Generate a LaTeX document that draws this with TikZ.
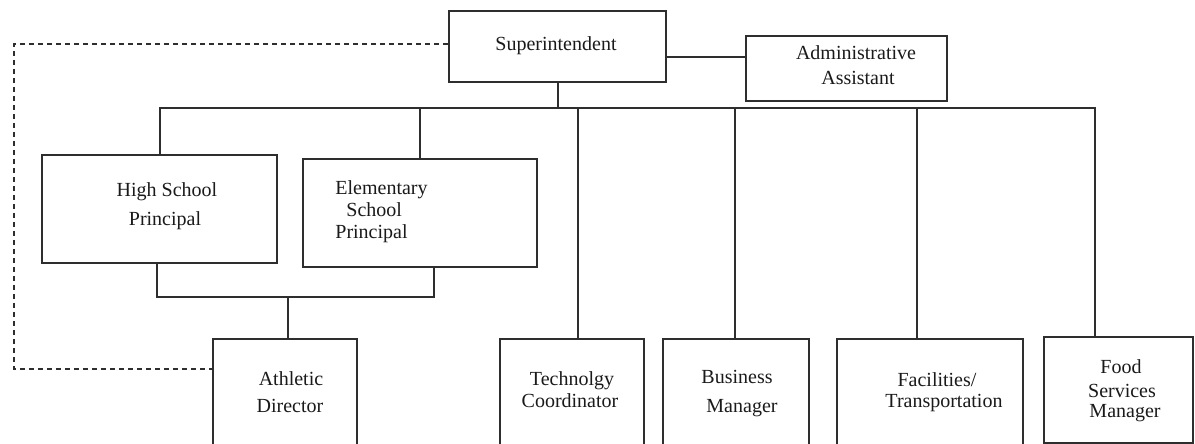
\documentclass[tikz,border=0pt]{standalone}
\usepackage{fontspec}
\setmainfont{Liberation Serif}
\definecolor{linec}{HTML}{2E2E2E}
\definecolor{txtc}{HTML}{1A1A1A}
\begin{document}
\begin{tikzpicture}[x=0.5pt,y=-0.5pt,
  box/.style={draw=linec, line width=1pt, inner sep=0pt, anchor=north west},
  ln/.style={draw=linec, line width=1pt},
  dl/.style={draw=linec, line width=0.8pt, dash pattern=on 2.5pt off 2pt},
  lbl/.style={inner sep=0pt, font=\fontsize{10}{12}\selectfont, text=txtc, anchor=base},
  lblw/.style={lbl, anchor=base west}]
\clip (0,0) rectangle (1195,444);
\fill[white] (0,0) rectangle (1195,444);
% boxes
\node[box, minimum width=108.5pt, minimum height=35.5pt] (sup) at (448,10) {};
\node[box, minimum width=100.5pt, minimum height=32.5pt] (adm) at (745,35) {};
\node[box, minimum width=117.5pt, minimum height=54pt] (hs) at (41,154) {};
\node[box, minimum width=117pt, minimum height=54pt] (elem) at (302,158) {};
\node[box, minimum width=72pt, minimum height=66pt] (ath) at (212,338) {};
\node[box, minimum width=72pt, minimum height=66pt] (tech) at (499,338) {};
\node[box, minimum width=73pt, minimum height=66pt] (bus) at (662,338) {};
\node[box, minimum width=93pt, minimum height=66pt] (fac) at (836,338) {};
\node[box, minimum width=74.5pt, minimum height=53pt] (food) at (1043,336) {};
% coordinates
\coordinate (j1) at (665,57);
\coordinate (b1) at (160,108);
\coordinate (b2) at (420,108);
\coordinate (b3) at (578,108);
\coordinate (b4) at (735,108);
\coordinate (b5) at (917,108);
\coordinate (b6) at (1095,108);
\coordinate (k1) at (157,297);
\coordinate (k2) at (434,297);
\coordinate (k3) at (288,297);
\coordinate (d1) at (14,44);
\coordinate (d2) at (14,369);
% connectors
\draw[ln] (sup.east |- j1) -- (adm.west |- j1);
\draw[ln] (sup.south) -- (sup.south |- b1);
\draw[ln] (hs.north -| b1) -- (b1) -- (b6) -- (food.north -| b6);
\draw[ln] (b2) -- (elem.north -| b2);
\draw[ln] (b3) -- (tech.north -| b3);
\draw[ln] (b4) -- (bus.north -| b4);
\draw[ln] (b5) -- (fac.north -| b5);
\draw[ln] (hs.south -| k1) -- (k1) -- (k2) -- (elem.south -| k2);
\draw[ln] (k3) -- (ath.north -| k3);
\draw[dl] (sup.west |- d1) -- (d1) -- (d2) -- (ath.west |- d2);
% labels
\node[lbl] (tsup) at (556,51) {Superintendent};
\node[lbl] (tadm1) at (856,60) {Administrative};
\node[lbl] (tadm2) at (858,85) {Assistant};
\node[lbl] (ths1) at (167,197) {High School};
\node[lbl] (ths2) at (165,226) {Principal};
\node[lblw] (tel1) at (335,195) {Elementary};
\node[lblw] (tel2) at (346,217) {School};
\node[lblw] (tel3) at (335,239) {Principal};
\node[lbl] (tath1) at (291,385) {Athletic};
\node[lbl] (tath2) at (290,412) {Director};
\node[lbl] (ttec1) at (572,385) {Technolgy};
\node[lbl] (ttec2) at (570,407) {Coordinator};
\node[lbl] (tbus1) at (737,383) {Business};
\node[lbl] (tbus2) at (742,412) {Manager};
\node[lbl] (tfac1) at (937,386) {Facilities/};
\node[lbl] (tfac2) at (944,407) {Transportation};
\node[lbl] (tfd1) at (1121,373) {Food};
\node[lbl] (tfd2) at (1122,397) {Services};
\node[lbl] (tfd3) at (1125,417) {Manager};
\end{tikzpicture}
\end{document}
